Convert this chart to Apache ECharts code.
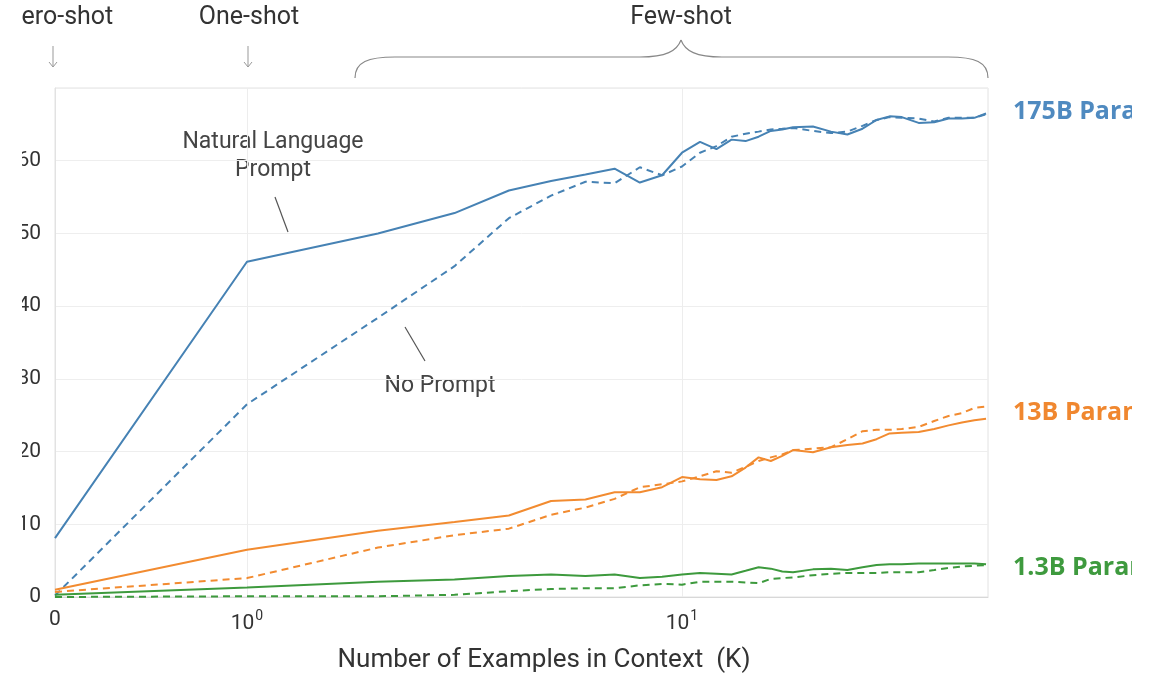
<!DOCTYPE html>
<html>
<head>
<meta charset="utf-8">
<script src="https://cdn.jsdelivr.net/npm/echarts@6/dist/echarts.min.js"></script>
<style>
  html, body { margin: 0; padding: 0; background: #fff; overflow: hidden; }
  /* the reference is a cropped figure: content is cut at both sides */
  .clip { position: absolute; left: 22px; top: 0; width: 1110px; height: 676px; overflow: hidden; }
  #chart { position: absolute; left: -22px; top: 0; width: 1200px; height: 676px; }
</style>
</head>
<body>
<div class="clip"><div id="chart"></div></div>
<script>
// number of examples in context (K)
const shots = [0, 1, 2, 3, 4, 5, 6, 7, 8, 9, 10, 11, 12, 13, 14, 15, 16, 17, 18,
  20, 22, 24, 26, 28, 30, 32, 35, 38, 41, 44, 47, 50]

// 175B
const big_prompt = [8.1, 46.1, 50.0, 52.8, 55.9, 57.2, 58.1, 58.9, 57.0, 58.0, 61.1, 62.6, 61.6, 62.9, 62.7, 63.3, 64.1, 64.3, 64.6,
  64.7, 64.0, 63.6, 64.4, 65.6, 66.1, 66.0, 65.2, 65.3, 65.8, 65.8, 65.9, 66.5]
const big_noprompt = [0.2, 26.5, 38.4, 45.5, 52.1, 55.2, 57.1, 56.9, 59.1, 58.0, 59.2, 61.1, 62.0, 63.3, 63.7, 64.0, 64.3, 64.4, 64.5,
  64.1, 63.8, 64.0, 64.8, 65.6, 66.0, 65.9, 65.8, 65.4, 65.9, 65.9, 65.9, 66.4]
// 13B
const mid_prompt = [1.0, 6.5, 9.1, 10.3, 11.2, 13.2, 13.4, 14.4, 14.4, 15.1, 16.5, 16.2, 16.1, 16.6, 17.8, 19.2, 18.7, 19.4, 20.2,
  19.9, 20.6, 20.9, 21.1, 21.7, 22.5, 22.6, 22.7, 23.1, 23.6, 24.0, 24.3, 24.5]
const mid_noprompt = [0.7, 2.6, 6.8, 8.5, 9.4, 11.3, 12.3, 13.5, 15.1, 15.5, 15.9, 16.6, 17.3, 17.1, 17.9, 18.7, 19.2, 19.6, 20.2,
  20.4, 20.6, 21.7, 22.8, 23.0, 23.0, 23.1, 23.4, 24.2, 24.9, 25.3, 26.0, 26.2]
// 1.3B
const small_prompt = [0.3, 1.3, 2.1, 2.4, 2.9, 3.1, 2.9, 3.1, 2.6, 2.8, 3.1, 3.3, 3.2, 3.1, 3.6, 4.1, 3.9, 3.5, 3.4,
  3.8, 3.9, 3.7, 4.1, 4.4, 4.5, 4.5, 4.6, 4.6, 4.6, 4.6, 4.6, 4.5]
const small_noprompt = [0.0, 0.1, 0.1, 0.3, 0.8, 1.1, 1.2, 1.2, 1.6, 1.8, 1.7, 2.1, 2.1, 2.1, 2.0, 1.9, 2.5, 2.6, 2.7,
  3.0, 3.2, 3.3, 3.3, 3.3, 3.4, 3.4, 3.4, 3.7, 4.0, 4.2, 4.3, 4.4]

const yTicks = [0, 10, 20, 30, 40, 50, 60]

// x axis: linear between 0 and 1, log10 above 1 (one decade = DECADE units)
const DECADE = 2.266
function xpos(k) {
  return k <= 1 ? k : 1 + DECADE * Math.log10(k)
}
function toPairs(vals) {
  return shots.map((k, i) => [xpos(k), vals[i]])
}

const BLUE = '#4682b4'
const ORANGE = '#f28b30'
const GREEN = '#3d9a3d'
const FONT = 'Roboto'

function line(name, vals, color, dashed) {
  return {
    name: name,
    type: 'line',
    data: toPairs(vals),
    symbol: 'none',
    lineStyle: { color: color, width: 2, type: dashed ? [7, 5] : 'solid' },
    z: dashed ? 3 : 4
  }
}

function label(x, y, text, size, extra) {
  return {
    type: 'text', x: x, y: y,
    style: Object.assign({ text: text, font: size + 'px Roboto', fill: '#333', align: 'center', verticalAlign: 'middle' }, extra || {})
  }
}

// thin down arrow drawn as a shaft and a small head
function arrow(x) {
  return {
    type: 'group',
    children: [
      { type: 'line', shape: { x1: x, y1: 46, x2: x, y2: 67 }, style: { stroke: '#999', lineWidth: 1 } },
      { type: 'polyline', shape: { points: [[x - 4, 62], [x, 67], [x + 4, 62]] }, style: { stroke: '#999', lineWidth: 1, fill: 'none' } }
    ]
  }
}

const braceStyle = { stroke: '#888', lineWidth: 1.2, fill: 'none' }
const sizeFont = 'bold 25px "Open Sans"'

const chart = echarts.init(document.getElementById('chart'))
chart.setOption({
  animation: false,
  textStyle: { fontFamily: FONT },
  grid: { left: 55, top: 88, width: 933, height: 509, show: true, borderColor: '#e2e2e2', borderWidth: 1 },
  xAxis: {
    type: 'value',
    min: 0,
    max: 4.86,
    axisLine: { lineStyle: { color: '#d8d8d8' } },
    axisTick: { show: false, customValues: [1, xpos(10)] },
    splitLine: { show: true, lineStyle: { color: '#ededed' } },
    axisLabel: {
      customValues: [0, 1, xpos(10)],
      margin: 12,
      formatter: function (v) {
        if (v < 0.5) return '{b|0}'
        return v < 2 ? '{b|10}{s|0}' : '{b|10}{s|1}'
      },
      rich: {
        b: { fontSize: 21, color: '#333', fontFamily: FONT },
        s: { fontSize: 14, color: '#333', fontFamily: FONT, padding: [0, 0, 16, 1] }
      }
    }
  },
  yAxis: {
    type: 'value',
    min: 0,
    max: 70,
    interval: 10,
    axisLine: { show: true, lineStyle: { color: '#e2e2e2' } },
    axisTick: { show: false },
    splitLine: { lineStyle: { color: '#eeeeee' } },
    axisLabel: {
      fontSize: 21,
      color: '#333',
      margin: 14,
      formatter: function (v) { return yTicks.indexOf(v) >= 0 ? String(v) : '' }
    }
  },
  series: [
    line('175B prompt', big_prompt, BLUE, false),
    line('175B no prompt', big_noprompt, BLUE, true),
    line('13B prompt', mid_prompt, ORANGE, false),
    line('13B no prompt', mid_noprompt, ORANGE, true),
    line('1.3B prompt', small_prompt, GREEN, false),
    line('1.3B no prompt', small_noprompt, GREEN, true)
  ],
  graphic: [
    // shot labels along the top
    label(60, 18, 'Zero-shot', 25),
    label(249, 18, 'One-shot', 25),
    label(681, 18, 'Few-shot', 25),
    arrow(53),
    arrow(248),
    // curly brace over the few-shot range
    { type: 'bezierCurve', shape: { x1: 355, y1: 78, cpx1: 355, cpy1: 62, cpx2: 368, cpy2: 57, x2: 395, y2: 57 }, style: braceStyle },
    { type: 'line', shape: { x1: 395, y1: 57, x2: 640, y2: 57 }, style: braceStyle },
    { type: 'bezierCurve', shape: { x1: 640, y1: 57, cpx1: 666, cpy1: 57, cpx2: 677, cpy2: 51, x2: 681, y2: 40 }, style: braceStyle },
    { type: 'bezierCurve', shape: { x1: 681, y1: 40, cpx1: 685, cpy1: 51, cpx2: 696, cpy2: 57, x2: 722, y2: 57 }, style: braceStyle },
    { type: 'line', shape: { x1: 722, y1: 57, x2: 948, y2: 57 }, style: braceStyle },
    { type: 'bezierCurve', shape: { x1: 948, y1: 57, cpx1: 975, cpy1: 57, cpx2: 988, cpy2: 62, x2: 988, y2: 78 }, style: braceStyle },
    // annotations
    label(273, 142, 'Natural Language', 23, { fill: '#444' }),
    label(273, 170, 'Prompt', 23, { fill: '#444' }),
    { type: 'line', shape: { x1: 275, y1: 197, x2: 288, y2: 232 }, style: { stroke: '#555', lineWidth: 1.2 } },
    label(440, 386, 'No Prompt', 23, { fill: '#444' }),
    { type: 'line', shape: { x1: 405, y1: 327, x2: 425, y2: 361 }, style: { stroke: '#555', lineWidth: 1.2 } },
    // model size labels at the right
    label(1013, 112, '175B Parameters', 25, { font: sizeFont, fill: '#4f8ac0', align: 'left' }),
    label(1013, 413, '13B Parameters', 25, { font: sizeFont, fill: '#f0872f', align: 'left' }),
    label(1013, 568, '1.3B Parameters', 25, { font: sizeFont, fill: '#3e9a3e', align: 'left' }),
    // x axis title
    label(544, 660, 'Number of Examples in Context  (K)', 26)
  ]
})
</script>
</body>
</html>
